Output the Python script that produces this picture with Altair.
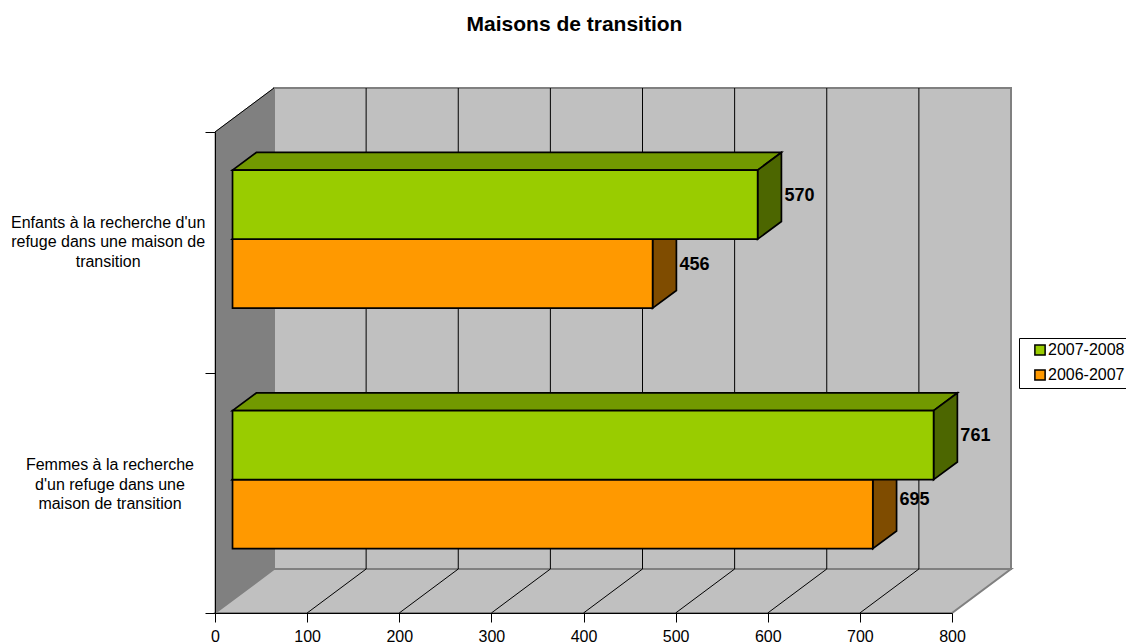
import altair as alt
import pandas as pd

# ---- chart values -------------------------------------------------
title = "Maisons de transition"
categories = ["Femmes à la recherche\nd'un refuge dans une\nmaison de transition",
              "Enfants à la recherche d'un\nrefuge dans une maison de\ntransition"]
series_names = ["2007-2008", "2006-2007"]
values_2007_2008 = [761, 570]
values_2006_2007 = [695, 456]
x_ticks = [0, 100, 200, 300, 400, 500, 600, 700, 800]
y_ticks = [0, 1, 2]

# ---- look ---------------------------------------------------------
FONT = "Liberation Sans"
FRONT = {"2007-2008": "#99CC00", "2006-2007": "#FF9900"}
TOP = {"2007-2008": "#729900", "2006-2007": "#BF7200"}
SIDE = {"2007-2008": "#4C6600", "2006-2007": "#7F4C00"}
WALL, SIDE_WALL, EDGE = "#C0C0C0", "#808080", "#808080"

W, H = 737, 481
XMAX, YMAX = 800, 2
DX = 59 / W * XMAX      # depth shift in value units
DY = 44 / H * YMAX      # depth shift in category units
D1, D2 = 0.297, 0.70    # depth span of the bars
BAR = 69 / H * YMAX     # bar thickness in category units

xs = alt.Scale(domain=[0, XMAX], nice=False, zero=False)
ys = alt.Scale(domain=[0, YMAX], nice=False, zero=False)
x_axis = alt.Axis(values=x_ticks, grid=False, domainColor="black", tickColor="black", title=None,
                  tickSize=9, labelFont=FONT, labelFontSize=16, labelColor="black",
                  labelPadding=6, labelAngle=0, labelFlush=False, zindex=1)
y_axis = alt.Axis(values=y_ticks, grid=False, labels=False, domainColor="black", title=None,
                  tickColor="black", tickSize=10, zindex=1)
X = lambda f: alt.X(f, type="quantitative", scale=xs, axis=x_axis)
Y = lambda f: alt.Y(f, type="quantitative", scale=ys, axis=y_axis)


def vface(x0, x1, y0, y1, fill, **kw):
    """Parallelogram with vertical edges; (y0,y1) at x0, shifted with depth."""
    d = pd.DataFrame({"x": [x0, x1], "y": [y0[0], y0[1]], "y2": [y1[0], y1[1]]})
    return alt.Chart(d).mark_area(fill=fill, clip=False, **kw).encode(
        x=X("x"), y=Y("y"), y2="y2")


def hface(y0, y1, x0, x1, fill, **kw):
    d = pd.DataFrame({"y": [y0, y1], "x": [x0[0], x0[1]], "x2": [x1[0], x1[1]]})
    return alt.Chart(d).mark_area(orient="horizontal", fill=fill, clip=False, **kw).encode(
        y=Y("y"), x=X("x"), x2="x2")


def seg(x0, y0, x1, y1, color="black", width=1):
    d = pd.DataFrame({"x": [x0, x1], "y": [y0, y1]})
    return alt.Chart(d).mark_line(color=color, strokeWidth=width, clip=False).encode(
        x=X("x"), y=Y("y"), order="x")


layers = []

# back wall
back = pd.DataFrame({"x": [DX], "x2": [XMAX + DX], "y": [DY], "y2": [YMAX + DY]})
layers.append(alt.Chart(back).mark_rect(fill=WALL, stroke=EDGE, strokeWidth=2, clip=False).encode(
    x=X("x"), x2="x2", y=Y("y"), y2="y2"))
# left wall
layers.append(vface(0, DX, (0, DY), (YMAX, YMAX + DY), SIDE_WALL, stroke=EDGE, strokeWidth=1))
# floor
layers.append(hface(0, DY, (0, DX), (XMAX, XMAX + DX), WALL, stroke=EDGE, strokeWidth=2))

# grid lines on the back wall and the floor
grid = pd.DataFrame({"x": [t + DX for t in x_ticks[1:-1]], "y": DY, "y2": YMAX + DY})
layers.append(alt.Chart(grid).mark_rule(color="black", strokeWidth=1, clip=False).encode(
    x=X("x"), y=Y("y"), y2="y2"))
for t in x_ticks[1:-1]:
    layers.append(seg(t, 0, t + DX, DY))
layers.append(seg(0, YMAX, DX, YMAX + DY))

# bars: the older series first, so the newer one covers it
for name, vals, sign in [("2006-2007", values_2006_2007, -1), ("2007-2008", values_2007_2008, 1)]:
    for k, v in enumerate(vals):
        c = k + 0.5
        lo, hi = (c - BAR, c) if sign < 0 else (c, c + BAR)
        ax0, ax1 = D1 * DX, D2 * DX
        ay0, ay1 = D1 * DY, D2 * DY
        layers.append(hface(hi + ay0, hi + ay1, (ax0, ax1), (v + ax0, v + ax1), TOP[name],
                            stroke="black", strokeWidth=1.7))
        layers.append(vface(v + ax0, v + ax1, (lo + ay0, lo + ay1), (hi + ay0, hi + ay1), SIDE[name],
                            stroke="black", strokeWidth=1.7))
        front = pd.DataFrame({"x": [ax0], "x2": [v + ax0], "y": [lo + ay0], "y2": [hi + ay0],
                              "series": [name]})
        layers.append(alt.Chart(front).mark_rect(stroke="black", strokeWidth=1.7, clip=False).encode(
            x=X("x"), x2="x2", y=Y("y"), y2="y2",
            color=alt.Color("series:N",
                            scale=alt.Scale(domain=series_names,
                                            range=[FRONT[s] for s in series_names]),
                            legend=alt.Legend(title=None, orient="none", legendX=804, legendY=206,
                                              fillColor="white", strokeColor="black", padding=4,
                                              symbolType="square", symbolSize=105,
                                              symbolStrokeColor="black", symbolStrokeWidth=1.5,
                                              symbolOffset=9, labelFont=FONT, labelFontSize=16,
                                              labelColor="black", labelOffset=0, rowPadding=7,
                                              values=series_names))))
        # value label, level with the middle of the side face
        nudge = 5 / H * YMAX if v == 695 else 0
        lab = pd.DataFrame({"x": [v + ax1], "y": [(lo + hi) / 2 + (D1 + D2) / 2 * DY + nudge], "t": [str(v)]})
        layers.append(alt.Chart(lab).mark_text(align="left", baseline="middle", dx=3, font=FONT,
                                               fontWeight="bold", fontSize=18, color="black",
                                               clip=False).encode(
            x=X("x"), y=Y("y"), text="t:N"))

# category labels
cat = pd.DataFrame({"x": [-114, -116], "y": [0.5 + 0.036, 1.5 + 0.043], "t": categories})
layers.append(alt.Chart(cat).mark_text(align="center", baseline="middle", lineBreak="\n", lineHeight=19.5,
                                       dy=-19, font=FONT, fontSize=16, color="black", clip=False).encode(
    x=X("x"), y=Y("y"), text="t:N"))

chart = alt.layer(*layers).resolve_scale(color="shared").properties(
    width=W, height=H,
    padding={"left": 207, "top": 124, "right": 174, "bottom": 30},
    autosize=alt.AutoSizeParams(type="none"),
    background="white",
    title=alt.TitleParams(title, font=FONT, fontSize=21, fontWeight="bold", color="black",
                          anchor="middle", dx=-9, offset=51),
).configure_view(stroke=None)

chart.save("out.html", embed_options={"renderer": "svg", "actions": False})
